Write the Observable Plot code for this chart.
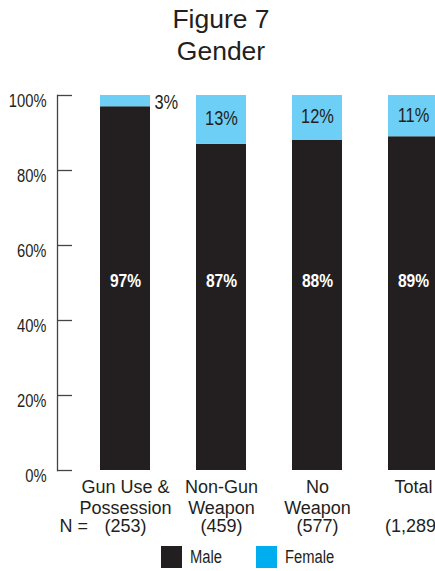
<!DOCTYPE html>
<html>
<head>
<meta charset="utf-8">
<script src="https://cdn.jsdelivr.net/npm/d3@7"></script>
<script src="https://cdn.jsdelivr.net/npm/@observablehq/plot@0.6"></script>
<style>
  html, body { margin: 0; padding: 0; background: #fff; overflow: hidden; }
  #wrap { width: 435px; height: 571px; position: relative; color: #231f20; }
  #title { height: 70px; box-sizing: border-box; padding-top: 3px; padding-left: 7px; width: 435px;
    text-align: center; font-family: "Liberation Sans", Arial, sans-serif; font-size: 26.5px; line-height: 32px; color: #231f20; }
  #chart svg { display: block; }
  #legend { position: relative; height: 29px; width: 435px; font-family: "Liberation Sans", Arial, sans-serif; font-size: 18px; color: #231f20; }
  #legend .sw { position: absolute; top: 4px; width: 21px; height: 22px; }
  #legend .lb { position: absolute; top: 4px; line-height: 22px; white-space: nowrap; transform: scaleX(0.82); transform-origin: 0 0; }
</style>
</head>
<body>
<div id="wrap">
  <div id="title">Figure 7<br>Gender</div>
  <div id="chart"></div>
  <div id="legend"></div>
</div>
<script>
const categories = ["Gun Use &\nPossession", "Non-Gun\nWeapon", "No\nWeapon", "Total"];
const nLabels = ["(253)", "(459)", "(577)", "(1,289)"];
const male = [97, 87, 88, 89];
const female = [3, 13, 12, 11];
const yTicks = [0, 20, 40, 60, 80, 100];
const seriesNames = ["Male", "Female"];

const dark = "#231f20";
const cyanBar = "#6dcff6";
const cyanKey = "#00aeef";
// "narrow" texts are drawn in Liberation Sans and condensed horizontally after rendering
const narrow = '"Liberation Sans", sans-serif';
const regular = 'Arial, "Liberation Sans", sans-serif';

const rows = categories.map((c, i) => ({cat: c, n: nLabels[i], male: male[i], female: female[i]}));

const W = 435, H = 472;
const plot = Plot.plot({
  width: W,
  height: H,
  marginLeft: 57,
  marginRight: 0,
  marginTop: 25,
  marginBottom: 72,
  style: {fontFamily: regular, fontSize: "18px", color: dark, background: "#fff", overflow: "visible"},
  x: {domain: categories, range: [99.5, 438.5], paddingInner: 0.48, paddingOuter: 0, axis: null},
  y: {domain: [0, 100], axis: null, label: null},
  marks: [
    Plot.barY(rows, {x: "cat", y1: 0, y2: "male", fill: dark}),
    Plot.barY(rows, {x: "cat", y1: "male", y2: d => d.male + d.female, fill: cyanBar}),
    // y axis line and inward ticks
    Plot.frame({anchor: "left", stroke: "#444", strokeWidth: 1.3}),
    Plot.tickY(yTicks, {y: d => d, stroke: "#444", strokeWidth: 1.3, insetRight: W - 57 - 15}),
    Plot.axisY({ticks: yTicks, tickSize: 0, tickPadding: 11, tickFormat: d => d + "%", dy: 6, label: null,
      fontFamily: narrow, fontSize: 18, fill: dark}),
    // male labels
    Plot.text(rows, {x: "cat", y: 50.5, text: d => d.male + "%", fill: "#fff", fontWeight: "bold",
      fontFamily: narrow, fontSize: 19}),
    // female labels inside
    Plot.text(rows.filter(d => d.female >= 5), {x: "cat", y: d => d.male + d.female / 2,
      text: d => d.female + "%", fill: dark, fontFamily: narrow, fontSize: 20, dy: -1}),
    // female label outside
    Plot.text(rows.filter(d => d.female < 5), {x: "cat", y: d => d.male + d.female / 2,
      text: d => d.female + "%", fill: dark, fontFamily: narrow, fontSize: 20, textAnchor: "start", dx: 29, dy: 1}),
    // category labels
    Plot.text(rows, {x: "cat", y: 0, text: "cat", lineAnchor: "top", dy: 8, lineHeight: 1.14,
      fontFamily: regular, fontSize: 18, fill: dark}),
    Plot.text(rows, {x: "cat", y: 0, text: "n", lineAnchor: "top", dy: 49,
      fontFamily: regular, fontSize: 18, fill: dark}),
    Plot.text(["N ="], {frameAnchor: "bottom-left", text: d => d, textAnchor: "start", lineAnchor: "top",
      dx: 2, dy: 49, fontFamily: regular, fontSize: 18, fill: dark})
  ]
});
document.getElementById("chart").appendChild(plot);

// condense the narrow-font texts
plot.querySelectorAll("text").forEach(t => {
  const g = t.closest("[font-family]");
  if (g && g.getAttribute("font-family") === narrow && !t.querySelector("tspan")) {
    const w = t.getComputedTextLength();
    if (w > 0) {
      t.setAttribute("textLength", (w * 0.82).toFixed(2));
      t.setAttribute("lengthAdjust", "spacingAndGlyphs");
    }
  }
});

// legend
const legend = document.getElementById("legend");
const keyColors = [dark, cyanKey];
const swX = [161, 256];
seriesNames.forEach((name, i) => {
  const sw = document.createElement("div");
  sw.className = "sw";
  sw.style.left = swX[i] + "px";
  sw.style.background = keyColors[i];
  legend.appendChild(sw);
  const lb = document.createElement("div");
  lb.className = "lb";
  lb.style.left = (swX[i] + 29) + "px";
  lb.textContent = name;
  legend.appendChild(lb);
});
</script>
</body>
</html>
